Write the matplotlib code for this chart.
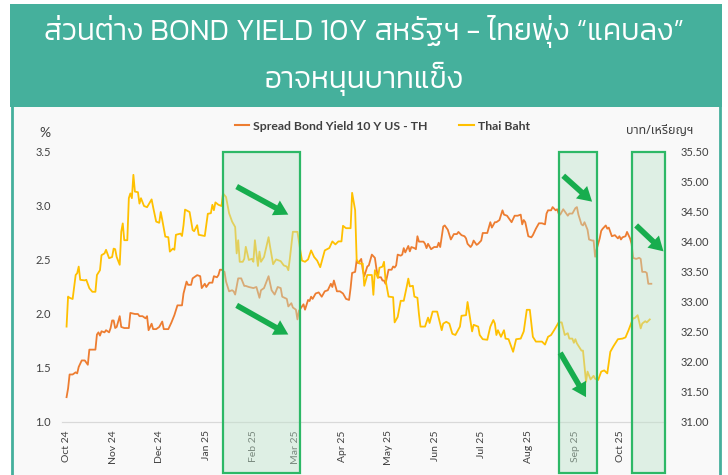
import matplotlib
matplotlib.use("Agg")
import matplotlib.pyplot as plt
import matplotlib.dates as mdates
from matplotlib.patches import Rectangle
from matplotlib.lines import Line2D
from matplotlib.transforms import blended_transform_factory
import numpy as np

# ---------------- data ----------------
title_line1 = "ส่วนต่าง BOND YIELD 10Y สหรัฐฯ - ไทยพุ่ง “แคบลง”"
title_line2 = "อาจหนุนบาทแข็ง"
spread_label = "Spread Bond Yield 10 Y US - TH"
baht_label = "Thai Baht"
left_unit = "%"
right_unit = "บาท/เหรียญฯ"

spread_dates = [
    "2024-10-01","2024-10-02","2024-10-03","2024-10-05","2024-10-07","2024-10-08","2024-10-09","2024-10-10",
    "2024-10-11","2024-10-13","2024-10-15","2024-10-16","2024-10-20","2024-10-21","2024-10-22","2024-10-23",
    "2024-10-24","2024-10-26","2024-10-27","2024-10-29","2024-10-30","2024-10-31","2024-11-01","2024-11-02",
    "2024-11-03","2024-11-05","2024-11-06","2024-11-08","2024-11-11","2024-11-12","2024-11-15","2024-11-17",
    "2024-11-18","2024-11-20","2024-11-22","2024-11-23","2024-11-24","2024-11-26","2024-11-27","2024-11-29",
    "2024-12-01","2024-12-03","2024-12-04","2024-12-07","2024-12-09","2024-12-11","2024-12-13","2024-12-16",
    "2024-12-17","2024-12-19","2024-12-20","2024-12-22","2024-12-23","2024-12-24","2024-12-26","2024-12-28",
    "2024-12-29","2024-12-31","2025-01-01","2025-01-03","2025-01-05","2025-01-06","2025-01-08","2025-01-09",
    "2025-01-10","2025-01-11","2025-01-13","2025-01-14","2025-01-16","2025-01-18","2025-01-19","2025-01-20",
    "2025-01-22","2025-01-24","2025-01-26","2025-01-27","2025-01-29","2025-02-01","2025-02-03","2025-02-05",
    "2025-02-06","2025-02-08","2025-02-11","2025-02-13","2025-02-15","2025-02-17","2025-02-19","2025-02-20",
    "2025-02-23","2025-02-24","2025-02-26","2025-02-27","2025-03-01","2025-03-02","2025-03-03","2025-03-05",
    "2025-03-06","2025-03-07","2025-03-09","2025-03-10","2025-03-11","2025-03-12","2025-03-14","2025-03-16",
    "2025-03-18","2025-03-20","2025-03-22","2025-03-24","2025-03-25","2025-03-26","2025-03-28","2025-03-30",
    "2025-04-01","2025-04-03","2025-04-05","2025-04-06","2025-04-07","2025-04-09","2025-04-10","2025-04-11",
    "2025-04-13","2025-04-14","2025-04-15","2025-04-17","2025-04-18","2025-04-20","2025-04-22","2025-04-23",
    "2025-04-24","2025-04-26","2025-04-27","2025-04-28","2025-04-29","2025-05-01","2025-05-03","2025-05-04",
    "2025-05-05","2025-05-06","2025-05-07","2025-05-09","2025-05-10","2025-05-11","2025-05-12","2025-05-14",
    "2025-05-15","2025-05-16","2025-05-18","2025-05-19","2025-05-20","2025-05-21","2025-05-24","2025-05-25",
    "2025-05-26","2025-05-27","2025-05-29","2025-05-31","2025-06-02","2025-06-03","2025-06-04","2025-06-06",
    "2025-06-07","2025-06-09","2025-06-11","2025-06-13","2025-06-15","2025-06-16","2025-06-18","2025-06-20",
    "2025-06-21","2025-06-22","2025-06-24","2025-06-25","2025-06-26","2025-06-28","2025-06-29","2025-07-01",
    "2025-07-02","2025-07-05","2025-07-07","2025-07-08","2025-07-10","2025-07-11","2025-07-13","2025-07-15",
    "2025-07-16","2025-07-18","2025-07-19","2025-07-21","2025-07-23","2025-07-25","2025-07-27","2025-07-28",
    "2025-07-29","2025-07-30","2025-08-01","2025-08-03","2025-08-04","2025-08-06","2025-08-08","2025-08-10",
    "2025-08-12","2025-08-13","2025-08-14","2025-08-16","2025-08-17","2025-08-19","2025-08-20","2025-08-21",
    "2025-08-22","2025-08-24","2025-08-25","2025-08-27","2025-08-28","2025-08-30","2025-09-01","2025-09-02",
    "2025-09-03","2025-09-05","2025-09-06","2025-09-07","2025-09-09","2025-09-10","2025-09-12","2025-09-13",
    "2025-09-14","2025-09-15","2025-09-17","2025-09-18","2025-09-19","2025-09-21","2025-09-22","2025-09-23",
    "2025-09-24","2025-09-25","2025-09-27","2025-09-29","2025-09-30","2025-10-01","2025-10-02","2025-10-04",
    "2025-10-05","2025-10-07","2025-10-08","2025-10-09","2025-10-11","2025-10-13","2025-10-14","2025-10-15",
    "2025-10-17","2025-10-18","2025-10-19","2025-10-21",
]
spread_values = [
    1.23,1.31,1.44,1.44,1.46,1.45,1.51,1.54,
    1.57,1.57,1.53,1.67,1.67,1.81,1.83,1.80,
    1.84,1.83,1.85,1.83,1.87,1.94,1.94,1.87,
    1.88,1.98,1.88,1.87,1.87,2.01,2.00,2.00,
    1.98,1.98,1.96,1.98,1.85,1.91,1.86,1.86,
    1.88,1.93,1.86,1.86,1.92,1.99,2.08,2.08,
    2.19,2.30,2.27,2.27,2.33,2.34,2.36,2.35,
    2.24,2.28,2.25,2.29,2.29,2.35,2.34,2.36,
    2.41,2.41,2.39,2.30,2.21,2.22,2.21,2.18,
    2.33,2.33,2.26,2.26,2.25,2.24,2.25,2.15,
    2.22,2.24,2.35,2.22,2.18,2.25,2.24,2.16,
    2.14,2.07,2.10,2.06,2.04,1.95,2.03,2.07,
    2.09,2.04,2.13,2.12,2.16,2.14,2.19,2.20,
    2.16,2.21,2.22,2.28,2.25,2.31,2.21,2.21,
    2.19,2.14,2.13,2.24,2.38,2.39,2.50,2.47,
    2.51,2.41,2.35,2.44,2.45,2.55,2.52,2.42,
    2.34,2.34,2.31,2.31,2.28,2.41,2.41,2.44,
    2.43,2.45,2.55,2.54,2.55,2.61,2.57,2.63,
    2.58,2.62,2.61,2.60,2.72,2.67,2.67,2.65,
    2.61,2.65,2.60,2.62,2.62,2.66,2.62,2.81,
    2.82,2.78,2.69,2.74,2.74,2.76,2.73,2.72,
    2.70,2.65,2.62,2.64,2.68,2.64,2.65,2.68,
    2.75,2.75,2.85,2.80,2.85,2.85,2.87,2.96,
    2.92,2.91,2.89,2.85,2.91,2.91,2.92,2.83,
    2.87,2.85,2.72,2.71,2.73,2.79,2.84,2.84,
    2.83,2.93,2.96,2.96,2.99,2.96,2.97,2.93,
    2.92,2.97,2.95,2.91,2.93,2.93,2.98,2.99,
    2.92,2.83,2.82,2.85,2.78,2.69,2.68,2.68,
    2.53,2.60,2.70,2.77,2.79,2.82,2.79,2.80,
    2.76,2.72,2.73,2.70,2.72,2.69,2.71,2.72,
    2.76,2.70,2.65,2.52,2.51,2.52,2.51,2.39,
    2.39,2.38,2.28,2.28,
]

baht_dates = [
    "2024-10-01","2024-10-02","2024-10-03","2024-10-05","2024-10-07","2024-10-08","2024-10-09","2024-10-10",
    "2024-10-13","2024-10-14","2024-10-16","2024-10-18","2024-10-20","2024-10-21","2024-10-23","2024-10-24",
    "2024-10-26","2024-10-27","2024-10-29","2024-10-31","2024-11-01","2024-11-02","2024-11-03","2024-11-05",
    "2024-11-06","2024-11-07","2024-11-08","2024-11-10","2024-11-11","2024-11-12","2024-11-13","2024-11-14",
    "2024-11-15","2024-11-17","2024-11-18","2024-11-19","2024-11-21","2024-11-23","2024-11-26","2024-11-27",
    "2024-11-29","2024-12-01","2024-12-02","2024-12-03","2024-12-05","2024-12-07","2024-12-08","2024-12-10",
    "2024-12-11","2024-12-12","2024-12-15","2024-12-16","2024-12-17","2024-12-18","2024-12-21","2024-12-23",
    "2024-12-24","2024-12-26","2024-12-27","2024-12-31","2025-01-02","2025-01-04","2025-01-05","2025-01-06",
    "2025-01-07","2025-01-09","2025-01-11","2025-01-12","2025-01-14","2025-01-16","2025-01-18","2025-01-20",
    "2025-01-21","2025-01-22","2025-01-23","2025-01-25","2025-01-26","2025-01-27","2025-01-29","2025-01-31",
    "2025-02-01","2025-02-02","2025-02-04","2025-02-05","2025-02-06","2025-02-08","2025-02-11","2025-02-12",
    "2025-02-14","2025-02-16","2025-02-19","2025-02-21","2025-02-23","2025-02-24","2025-02-25","2025-02-27",
    "2025-03-02","2025-03-04","2025-03-05","2025-03-07","2025-03-09","2025-03-11","2025-03-13","2025-03-15",
    "2025-03-17","2025-03-20","2025-03-23","2025-03-25","2025-03-27","2025-03-29","2025-03-31","2025-04-01",
    "2025-04-03","2025-04-06","2025-04-07","2025-04-09","2025-04-10","2025-04-12","2025-04-14","2025-04-15",
    "2025-04-17","2025-04-20","2025-04-21","2025-04-22","2025-04-24","2025-04-25","2025-04-27","2025-04-28",
    "2025-04-29","2025-05-01","2025-05-04","2025-05-05","2025-05-07","2025-05-09","2025-05-11","2025-05-13",
    "2025-05-14","2025-05-15","2025-05-17","2025-05-18","2025-05-20","2025-05-21","2025-05-22","2025-05-25",
    "2025-05-27","2025-05-28","2025-05-30","2025-06-02","2025-06-05","2025-06-06","2025-06-08","2025-06-10",
    "2025-06-12","2025-06-14","2025-06-17","2025-06-18","2025-06-21","2025-06-22","2025-06-24","2025-06-25",
    "2025-06-26","2025-06-29","2025-06-30","2025-07-02","2025-07-05","2025-07-07","2025-07-09","2025-07-10",
    "2025-07-11","2025-07-12","2025-07-14","2025-07-16","2025-07-17","2025-07-19","2025-07-22","2025-07-24",
    "2025-07-27","2025-07-29","2025-07-31","2025-08-02","2025-08-04","2025-08-06","2025-08-10","2025-08-12",
    "2025-08-14","2025-08-16","2025-08-18","2025-08-21","2025-08-23","2025-08-25","2025-08-27","2025-08-28",
    "2025-08-30","2025-08-31","2025-09-01","2025-09-02","2025-09-05","2025-09-06","2025-09-08","2025-09-09",
    "2025-09-11","2025-09-13","2025-09-14","2025-09-16","2025-09-18","2025-09-20","2025-09-22","2025-09-24",
    "2025-09-26","2025-09-29","2025-10-02","2025-10-04","2025-10-06","2025-10-09","2025-10-10","2025-10-12",
    "2025-10-14","2025-10-15","2025-10-17","2025-10-18","2025-10-20",
]
baht_values = [
    32.59,33.09,33.07,33.05,33.45,33.48,33.59,33.37,
    33.36,33.37,33.23,33.17,33.17,33.45,33.53,33.78,
    33.81,33.87,33.73,33.75,33.89,33.88,33.75,33.62,
    34.17,34.31,34.03,34.03,34.73,34.81,34.73,35.12,
    34.84,34.83,34.64,34.73,34.60,34.58,34.71,34.58,
    34.34,34.32,34.50,34.37,34.09,34.08,33.84,33.89,
    33.87,34.12,34.14,34.10,34.28,34.54,34.50,34.20,
    34.18,34.28,34.12,34.10,34.47,34.48,34.62,34.53,
    34.66,34.62,34.60,34.81,34.75,34.48,34.34,34.25,
    33.81,34.03,33.67,33.67,33.72,33.92,33.70,33.72,
    33.67,34.03,33.60,33.84,33.67,33.75,34.08,33.92,
    33.63,33.71,33.68,33.61,33.59,33.53,33.72,34.17,
    34.17,33.84,33.69,33.67,33.71,33.86,33.75,33.69,
    33.58,33.86,33.90,34.01,33.96,34.01,34.01,34.27,
    34.23,34.23,34.82,34.53,33.70,33.64,33.64,33.27,
    33.45,33.45,33.12,33.53,33.40,33.57,33.59,33.67,
    33.37,33.09,33.08,32.66,32.75,33.02,33.02,33.26,
    33.39,33.26,33.27,33.09,33.07,32.80,32.59,32.59,
    32.74,32.65,32.84,32.84,32.53,32.64,32.67,32.64,
    32.47,32.45,32.59,32.77,32.78,33.00,32.67,32.51,
    32.62,32.59,32.45,32.38,32.37,32.59,32.70,32.64,
    32.45,32.53,32.42,32.53,32.39,32.38,32.17,32.38,
    32.39,32.51,32.87,32.87,32.42,32.34,32.34,32.29,
    32.42,32.45,32.53,32.66,32.66,32.45,32.48,32.39,
    32.39,32.32,32.38,32.31,32.19,32.19,31.67,31.84,
    31.71,31.77,31.72,31.70,31.84,31.86,31.81,32.17,
    32.26,32.38,32.39,32.41,32.53,32.73,32.73,32.78,
    32.56,32.64,32.68,32.66,32.71,
]

left_ticks = [1.0, 1.5, 2.0, 2.5, 3.0, 3.5]
right_ticks = [31.0, 31.5, 32.0, 32.5, 33.0, 33.5, 34.0, 34.5, 35.0, 35.5]
x_start, x_end = "2024-09-28", "2025-10-30"
month_ticks = ["2024-10-01","2024-11-01","2024-12-01","2025-01-01","2025-02-01","2025-03-01",
               "2025-04-01","2025-05-01","2025-06-01","2025-07-01","2025-08-01","2025-09-01","2025-10-01"]

# highlight boxes (start, end) and arrows ((date, %), (date, %))
box_spans = [("2025-01-12", "2025-03-04"), ("2025-08-21", "2025-09-15"), ("2025-10-08", "2025-10-30")]
arrows = [
    (("2025-01-21", 3.18), ("2025-02-24", 2.92)),
    (("2025-01-21", 2.08), ("2025-02-24", 1.81)),
    (("2025-08-24", 3.28), ("2025-09-12", 3.04)),
    (("2025-08-22", 1.64), ("2025-09-08", 1.23)),
    (("2025-10-11", 2.82), ("2025-10-29", 2.58)),
]

# ---------------- style ----------------
TEAL = "#45B09C"
ORANGE = "#ED7D31"
GOLD = "#FFC000"
GREEN_EDGE = "#2DB866"
GREEN_FILL = "#BFE3CB"
ARROW_GREEN = "#17AD4E"
TXT = "#404040"
LATIN = ["Lato", "Noto Sans Thai", "DejaVu Sans"]
TITLE_FONT = ["Kanit", "Noto Sans Thai", "DejaVu Sans"]

def d(s):
    return mdates.date2num(np.datetime64(s))

fig = plt.figure(figsize=(7.28, 4.75), dpi=100, facecolor="white")

# panel background + header
fig.patches.append(Rectangle((11/728, 0), (721-11)/728, 1 - 107/475, transform=fig.transFigure,
                             facecolor="#F9F9F9", edgecolor="none", zorder=-10))
fig.add_artist(Line2D([12/728, 12/728], [0, 1 - 107/475], color=TEAL, lw=2, transform=fig.transFigure))
fig.add_artist(Line2D([720/728, 720/728], [0, 1 - 107/475], color=TEAL, lw=2, transform=fig.transFigure))
fig.patches.append(Rectangle((10/728, 1 - 107/475), (722-10)/728, 103/475, transform=fig.transFigure,
                             facecolor=TEAL, edgecolor="none", zorder=-5))
fig.text(0.5, 1 - 31/475, title_line1, color="white", ha="center", va="center",
         fontsize=21.5, family=TITLE_FONT, weight=300)
fig.text(0.5, 1 - 79/475, title_line2, color="white", ha="center", va="center",
         fontsize=21.5, family=TITLE_FONT, weight=300)

ax = fig.add_axes([62/728, 1 - 422/475, (665-62)/728, 270/475])
ax.set_facecolor("none")
ax2 = ax.twinx()
ax2.set_facecolor("none")

sx = [d(s) for s in spread_dates]
bx = [d(s) for s in baht_dates]
ax.plot(sx, spread_values, color=ORANGE, lw=1.3, solid_joinstyle="round")
ax2.plot(bx, baht_values, color=GOLD, lw=1.3, solid_joinstyle="round")

ax.set_xlim(d(x_start), d(x_end))
ax.set_ylim(left_ticks[0], left_ticks[-1])
ax2.set_ylim(right_ticks[0], right_ticks[-1])
ax.set_yticks(left_ticks)
ax.set_yticklabels([f"{v:.1f}" for v in left_ticks])
ax2.set_yticks(right_ticks)
ax2.set_yticklabels([f"{v:.2f}" for v in right_ticks])
ax.set_xticks([d(s) for s in month_ticks])
ax.set_xticklabels([np.datetime64(s).astype(object).strftime("%b %y") for s in month_ticks],
                   rotation=90)

for a in (ax, ax2):
    for sp in ("top", "left", "right"):
        a.spines[sp].set_visible(False)
    a.spines["bottom"].set_color("#D9D9D9")
    a.tick_params(length=0, colors=TXT, labelsize=8)
ax.tick_params(axis="y", pad=8)
ax2.tick_params(axis="y", pad=11)
ax.tick_params(axis="x", pad=6, labelsize=7.5)
for lab in ax.get_xticklabels() + ax.get_yticklabels() + ax2.get_yticklabels():
    lab.set_family(LATIN)

fig.text(45/728, 1 - 133/475, left_unit, fontsize=10, color=TXT, ha="center", va="center", family=LATIN)
fig.text(660/728, 1 - 130/475, right_unit, fontsize=9, color=TXT, ha="center", va="center",
         family=["Noto Sans Thai", "DejaVu Sans"])

# highlight boxes
tr = blended_transform_factory(ax2.transData, ax2.transAxes)
for s, e in box_spans:
    ax2.add_patch(Rectangle((d(s), -0.19), d(e) - d(s), 1.19, transform=tr, facecolor=GREEN_FILL,
                            alpha=0.45, edgecolor="none", clip_on=False, zorder=5))
    ax2.add_patch(Rectangle((d(s), -0.19), d(e) - d(s), 1.19, transform=tr, facecolor="none",
                            edgecolor=GREEN_EDGE, lw=1.6, clip_on=False, zorder=6))

for (s0, y0), (s1, y1) in arrows:
    ax2.annotate("", xy=(d(s1), y1), xytext=(d(s0), y0), xycoords=ax.transData,
                 textcoords=ax.transData, annotation_clip=False, zorder=7,
                 arrowprops=dict(arrowstyle="simple,head_length=0.85,head_width=1.0,tail_width=0.34",
                                 mutation_scale=12, color=ARROW_GREEN, lw=0, shrinkA=0, shrinkB=0))

handles = [Line2D([], [], color=ORANGE, lw=1.5), Line2D([], [], color=GOLD, lw=1.5)]
leg = fig.legend(handles, [spread_label, baht_label], loc="center", bbox_to_anchor=(0.525, 1 - 126/475),
                 ncol=2, frameon=False, handlelength=1.2, handletextpad=0.3, columnspacing=2.6,
                 prop=dict(family=LATIN, weight="bold", size=8.8))
for t in leg.get_texts():
    t.set_color(TXT)

fig.savefig("out.png", dpi=100, facecolor="white")
